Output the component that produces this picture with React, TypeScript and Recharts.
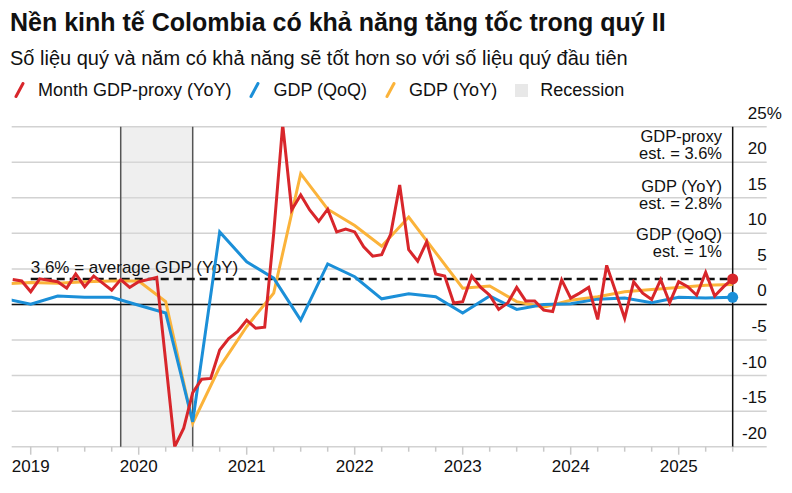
import {
  ComposedChart,
  CartesianGrid,
  Line,
  ReferenceArea,
  ReferenceLine,
  XAxis,
  YAxis,
} from "recharts";

// monthly GDP-proxy (ISE), YoY %, Oct 2018 .. Jun 2025
const proxyFirstMonth = [2018, 10];
const proxyValues = [
  3.5, 3.3, 1.8, 3.6, 3.4, 3.2, 2.3, 4.3, 2.5, 4.0, 3.0, 2.0, 3.5, 2.4,
  3.2, 3.5, 3.8, -8.0, -20.0, -17.4, -12.4, -10.5, -10.4, -6.4, -4.8, -3.8,
  -2.2, -3.35, -3.2, 10.0, 25.3, 13.3, 15.4, 13.3, 11.7, 13.4, 10.2, 10.6,
  10.2, 8.1, 6.8, 7.0, 9.9, 16.8, 7.7, 6.1, 8.8, 4.3, 4.0, 0.2, 0.4, 4.0,
  2.4, 1.3, -0.7, 0.2, 2.4, 0.5, 0.5, -0.8, -1.0, 3.45, 0.9, 1.6, 2.4, -2.1,
  5.5, 1.8, -1.95, 3.2, 1.6, 0.7, 3.5, 0.25, 3.2, 2.5, 1.3, 4.5, 1.2, 2.5,
  3.6,
];

// quarterly GDP, Q3 2018 .. Q2 2025
const quarterFirst = [2018, 3];
const gdpQoQ = [
  0.85, 0.05, 1.2, 1.0, 1.0, -0.1, -1.2, -16.5, 10.2, 6.0, 3.7, -2.2, 5.7,
  3.9, 0.8, 1.5, 1.1, -1.2, 1.2, -0.7, 0.0, 0.1, 0.75, 0.9, 0.25, 1.0, 0.9,
  1.0,
];
const gdpYoY = [
  2.9, 3.1, 3.0, 3.2, 3.3, 3.3, 0.4, -16.7, -8.8, -3.1, 1.6, 18.4, 13.4,
  11.1, 8.2, 12.3, 7.3, 2.3, 2.6, 0.4, -0.4, 0.6, 1.1, 1.8, 2.1, 2.4, 2.7,
  2.8,
];

const averageYoY = 3.6;
const recession = [2019 + 10 / 12, 2020.5];
const lastObs = 2025.5;
const xDomain = [2018.824, 2025.815];
const yTicks = [-20, -15, -10, -5, 0, 5, 10, 15, 20, 25];
const years = [2019, 2020, 2021, 2022, 2023, 2024, 2025];

const RED = "#d8262b";
const BLUE = "#1b8fd8";
const YELLOW = "#fbb33a";
const FONT = "'Liberation Sans', Arial, Helvetica, sans-serif";

// month index -> decimal year, plotted at month end
const proxyData = proxyValues.map((v, i) => {
  const m = proxyFirstMonth[1] + i;
  return { t: proxyFirstMonth[0] + m / 12, v };
});
const toQuarterly = (vals: number[]) =>
  vals.map((v, i) => {
    const q = quarterFirst[1] + i;
    return { t: quarterFirst[0] + (q * 3) / 12, v };
  });
const qoqData = toQuarterly(gdpQoQ);
const yoyData = toQuarterly(gdpYoY);

const xTicks: number[] = [];
years.forEach((y) => [0, 0.25, 0.5, 0.75].forEach((q) => xTicks.push(y + q)));
const xTicksShown = xTicks.filter((t) => t <= lastObs);

function XTick({ x, y, payload }: any) {
  const v = payload.value;
  const isYear = Math.abs(v - Math.round(v)) < 1e-6;
  return (
    <g>
      <line x1={x} x2={x} y1={y} y2={y + (isYear ? 8 : 5)} stroke="#c9c9c9" strokeWidth={1.5} />
      {isYear && (
        <text x={x} y={y + 25} textAnchor="middle" fontSize={17} fill="#111" fontFamily={FONT}>
          {Math.round(v)}
        </text>
      )}
    </g>
  );
}

function YTick({ x, y, payload }: any) {
  const v = payload.value;
  return (
    <g fontFamily={FONT} fontSize={17} fill="#111">
      <text x={x} y={y - 8} textAnchor="end">
        {v}
      </text>
      {v === 25 && (
        <text x={x} y={y - 8} textAnchor="start">
          %
        </text>
      )}
    </g>
  );
}

function AvgLabel({ viewBox }: any) {
  if (!viewBox) return null;
  return (
    <text x={viewBox.x} y={viewBox.y - 6} fontSize={17} fill="#111" fontFamily={FONT}>
      {`${averageYoY}% = average GDP (YoY)`}
    </text>
  );
}

const endDot = (color: string, n: number) => (p: any) =>
  p.index === n - 1 ? (
    <circle key={p.index} cx={p.cx} cy={p.cy} r={5.5} fill={color} />
  ) : (
    <g key={p.index} />
  );

function Slash({ color }: { color: string }) {
  return (
    <svg width={11} height={16} style={{ marginRight: 13, display: "block" }}>
      <line x1={2} y1={14.5} x2={9} y2={1.5} stroke={color} strokeWidth={3} strokeLinecap="round" />
    </svg>
  );
}

const halo = "0 0 2px #fff, 0 0 2px #fff, 0 0 3px #fff, 0 0 3px #fff";

function Estimate({ top, lines }: { top: number; lines: string[] }) {
  return (
    <div
      style={{
        position: "absolute",
        right: 70,
        top,
        textAlign: "right",
        fontSize: 16.5,
        lineHeight: "17px",
        color: "#111",
        textShadow: halo,
        whiteSpace: "nowrap",
      }}
    >
      {lines.map((l) => (
        <div key={l}>{l}</div>
      ))}
    </div>
  );
}

export default function App() {
  return (
    <div
      style={{
        position: "absolute",
        left: 0,
        top: 0,
        width: 792,
        height: 493,
        background: "#fff",
        fontFamily: FONT,
        color: "#111",
      }}
    >
      <div style={{ position: "absolute", left: 10, top: 9.8, fontSize: 25, lineHeight: 1, fontWeight: 700, whiteSpace: "nowrap" }}>
        Nền kinh tế Colombia có khả năng tăng tốc trong quý II
      </div>
      <div style={{ position: "absolute", left: 10, top: 48.1, fontSize: 20, lineHeight: 1, whiteSpace: "nowrap" }}>
        Số liệu quý và năm có khả năng sẽ tốt hơn so với số liệu quý đầu tiên
      </div>
      <div
        style={{
          position: "absolute",
          left: 14,
          top: 81.3,
          fontSize: 18,
          lineHeight: 1,
          display: "flex",
          alignItems: "center",
          whiteSpace: "nowrap",
        }}
      >
        <Slash color={RED} />
        <span style={{ marginRight: 18 }}>Month GDP-proxy (YoY)</span>
        <Slash color={BLUE} />
        <span style={{ marginRight: 18 }}>GDP (QoQ)</span>
        <Slash color={YELLOW} />
        <span style={{ marginRight: 18 }}>GDP (YoY)</span>
        <div style={{ width: 13, height: 13, background: "#e8e8e8", marginRight: 12 }} />
        <span>Recession</span>
      </div>

      <div style={{ position: "absolute", left: 0, top: 0 }}>
        <ComposedChart
          width={792}
          height={493}
          margin={{ top: 126.7, right: 0.3, bottom: 16.3, left: 11.7 }}
        >
          <CartesianGrid horizontal vertical={false} stroke="#d2d2d2" strokeWidth={1.5} />
          <ReferenceArea
            x1={recession[0]}
            x2={recession[1]}
            fill="#dcdcdc"
            fillOpacity={0.45}
            stroke="none"
          />
          <XAxis
            type="number"
            dataKey="t"
            domain={xDomain}
            allowDataOverflow
            ticks={xTicksShown}
            tick={<XTick />}
            tickSize={0}
            tickMargin={0}
            tickLine={false}
            axisLine={false}
            height={30}
            interval={0}
          />
          <YAxis
            orientation="right"
            domain={[-20, 25]}
            ticks={yTicks}
            tick={<YTick />}
            tickSize={0}
            tickMargin={0}
            tickLine={false}
            axisLine={false}
            width={25}
            allowDataOverflow
          />
          <ReferenceLine x={recession[0]} stroke="#555" strokeWidth={1.5} />
          <ReferenceLine x={recession[1]} stroke="#555" strokeWidth={1.5} />
          <ReferenceLine y={0} stroke="#111" strokeWidth={1.5} />
          <ReferenceLine x={lastObs} stroke="#111" strokeWidth={1.5} />
          <ReferenceLine
            segment={[
              { x: 2019, y: averageYoY },
              { x: lastObs, y: averageYoY },
            ]}
            stroke="#111"
            strokeWidth={2.5}
            strokeDasharray="8 5"
            label={<AvgLabel />}
          />
          <Line
            data={yoyData}
            dataKey="v"
            type="linear"
            stroke={YELLOW}
            strokeWidth={3}
            dot={false}
            activeDot={false}
            isAnimationActive={false}
          />
          <Line
            data={qoqData}
            dataKey="v"
            type="linear"
            stroke={BLUE}
            strokeWidth={3}
            dot={endDot(BLUE, qoqData.length)}
            activeDot={false}
            isAnimationActive={false}
          />
          <Line
            data={proxyData}
            dataKey="v"
            type="linear"
            stroke={RED}
            strokeWidth={3}
            dot={endDot(RED, proxyData.length)}
            activeDot={false}
            isAnimationActive={false}
          />
        </ComposedChart>
      </div>

      <Estimate top={127.5} lines={["GDP-proxy", "est. = 3.6%"]} />
      <Estimate top={177.5} lines={["GDP (YoY)", "est. = 2.8%"]} />
      <Estimate top={225.8} lines={["GDP (QoQ)", "est. = 1%"]} />
    </div>
  );
}
